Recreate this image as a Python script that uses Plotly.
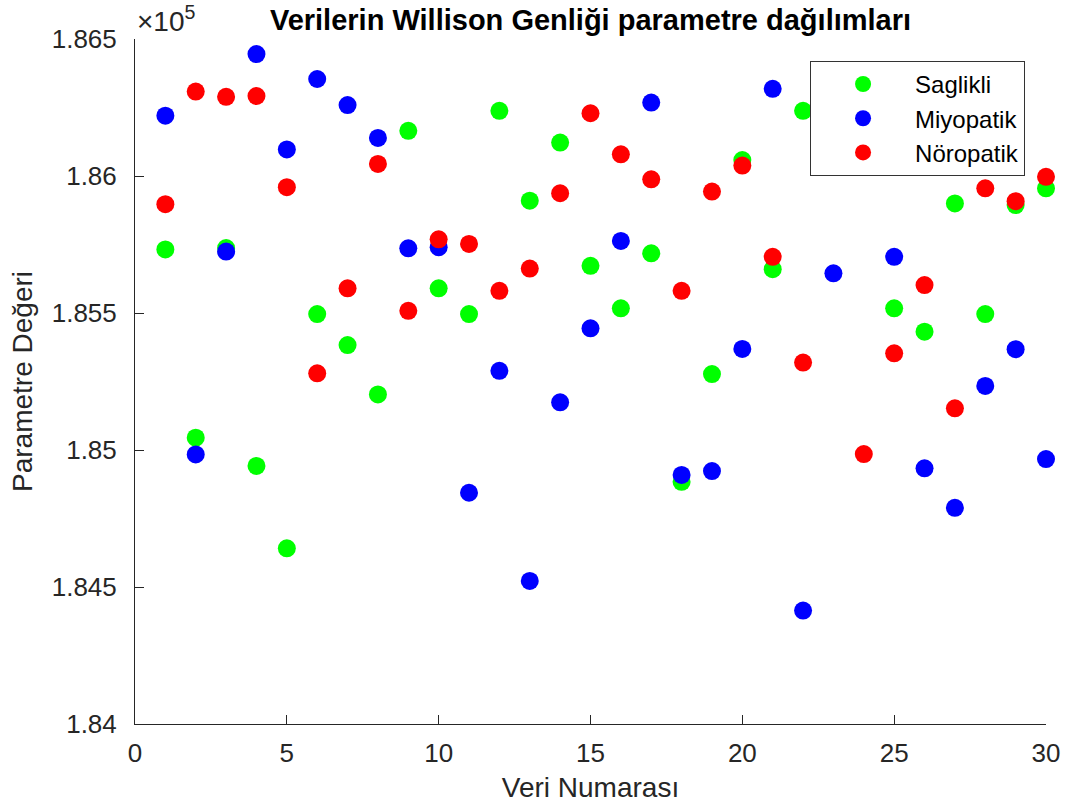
import plotly.graph_objects as go

# Veri numaraları 1..30
veri_no = list(range(1, 31))

# Willison genliği parametre değerleri (her sınıf için)
saglikli = [185732, 185045, 185737, 184942, 184641, 185496, 185383, 185203, 186165, 185590,
            185496, 186238, 185910, 186122, 185672, 185517, 185718, 184884, 185277, 186058,
            185660, 186238, 186168, 186277, 185517, 185432, 185900, 185496, 185894, 185955]
miyopatik = [186220, 184984, 185724, 186445, 186097, 186354, 186259, 186139, 185736, 185740,
             184844, 185289, 184522, 185174, 185444, 185763, 186268, 184909, 184923, 185369,
             186318, 184414, 185645, 186204, 185705, 184933, 184789, 185234, 185368, 184967]
noropatik = [185897, 186308, 186289, 186292, 185959, 185280, 185590, 186044, 185508, 185769,
             185752, 185581, 185662, 185937, 186229, 186079, 185988, 185581, 185943, 186038,
             185705, 185319, 186047, 184985, 185353, 185602, 185152, 185955, 185908, 185997]

y_ticks = [184000, 184500, 185000, 185500, 186000, 186500]
y_tick_text = ["1.84", "1.845", "1.85", "1.855", "1.86", "1.865"]
x_ticks = [0, 5, 10, 15, 20, 25, 30]

FONT = "Liberation Sans, Arial, Helvetica, sans-serif"
AX = "#262626"

fig = go.Figure()
for name, vals, col in [("Saglikli", saglikli, "#00FF00"),
                        ("Miyopatik", miyopatik, "#0000FF"),
                        ("Nöropatik", noropatik, "#FF0000")]:
    fig.add_trace(go.Scatter(
        x=veri_no, y=vals, mode="markers", name=name,
        marker=dict(color=col, size=18, line=dict(width=0)),
        cliponaxis=False,
    ))

fig.update_layout(
    width=1072, height=812,
    margin=dict(l=135, r=23, t=39, b=88),
    paper_bgcolor="white", plot_bgcolor="white",
    font=dict(family=FONT, color=AX, size=26),
    title=dict(text="<b>Verilerin Willison Genliği parametre dağılımları</b>",
               x=0.5, xref="paper", xanchor="center",
               y=0.976, yanchor="middle",
               font=dict(size=29, color="black", family=FONT)),
    xaxis=dict(range=[0, 30], tickvals=x_ticks, ticks="inside", ticklen=9,
               tickcolor=AX, showline=True, linecolor=AX, linewidth=1,
               showgrid=False, zeroline=False, mirror=False,
               tickfont=dict(size=26, color=AX), ticklabelstandoff=6,
               title=dict(text="Veri Numarası", font=dict(size=28, color=AX), standoff=10)),
    yaxis=dict(range=[184000, 186500], tickvals=y_ticks, ticktext=y_tick_text,
               ticks="inside", ticklen=9, tickcolor=AX, showline=True,
               linecolor=AX, linewidth=1, showgrid=False, zeroline=False,
               tickfont=dict(size=26, color=AX), ticklabelstandoff=12,
               title=dict(text="Parametre Değeri", font=dict(size=28, color=AX), standoff=10)),
    legend=dict(x=0.977, xanchor="right", y=0.968, yanchor="top",
                bgcolor="white", bordercolor="#333333", borderwidth=1,
                font=dict(size=24, color="black", family=FONT),
                itemwidth=94, tracegroupgap=0),
    showlegend=True,
)

fig.add_annotation(text="×10<sup>5</sup>", xref="paper", yref="paper",
                   x=0.0, y=1.0, xanchor="left", yanchor="bottom",
                   showarrow=False, font=dict(size=28, color=AX, family=FONT))

fig.write_html("out.html")
